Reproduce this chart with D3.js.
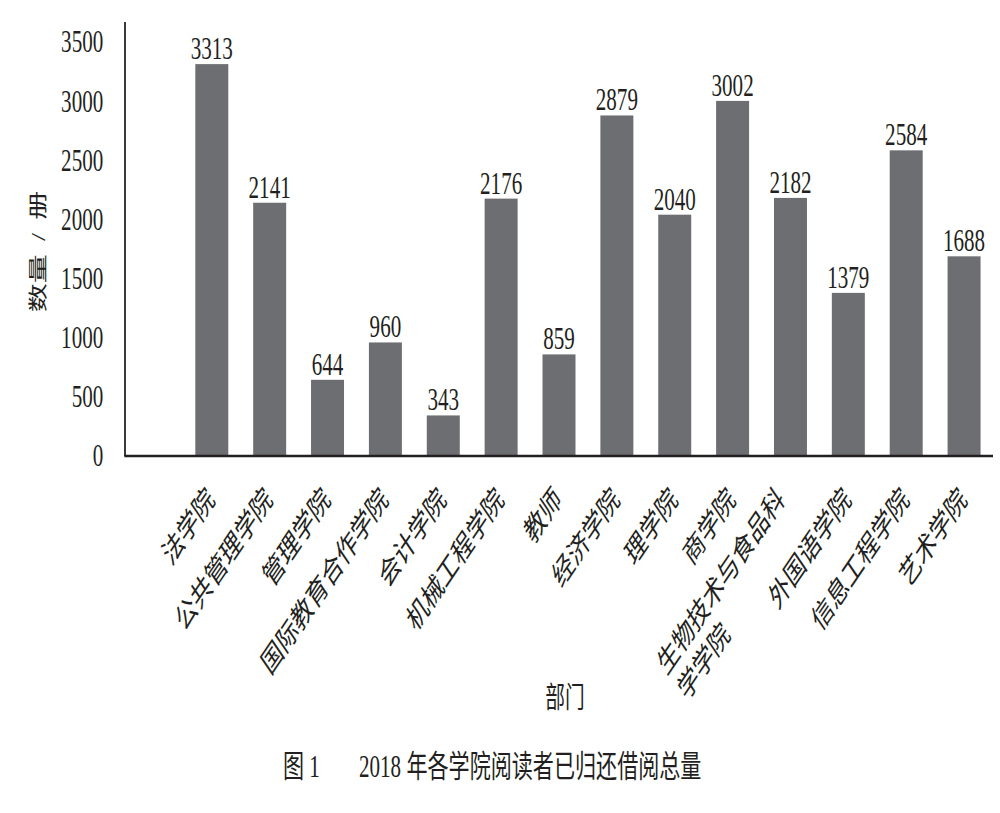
<!DOCTYPE html>
<html><head><meta charset="utf-8">
<script src="https://cdn.jsdelivr.net/npm/d3@7"></script>
<style>html,body{margin:0;padding:0;background:#fff;}</style>
</head><body>
<svg id="chart" width="1000" height="813"></svg>
<script>
const categories = ["法学院","公共管理学院","管理学院","国际教育合作学院","会计学院","机械工程学院","教师","经济学院","理学院","商学院","生物技术与食品科学学院","外国语学院","信息工程学院","艺术学院"];
const values = [3313,2141,644,960,343,2176,859,2879,2040,3002,2182,1379,2584,1688];
const yTicks = [0,500,1000,1500,2000,2500,3000,3500];
const yTitle = "数量 / 册";
const xTitle = "部门";
const captionNo = "图 1";
const captionText = "2018 年各学院阅读者已归还借阅总量";

const S = 0.68;
const FONT = "'Liberation Serif','Times New Roman','Noto Sans CJK SC',serif";
const INK = "#231f20";
const BAR = "#6d6e71";

const svg = d3.select("#chart");
svg.append("rect").attr("width",1000).attr("height",813).attr("fill","#fff");
const g = svg.append("g").attr("transform", `scale(${S},1)`);
const left = 125/S, right = 993/S, yTop = 22;
const y = d3.scaleLinear().domain([0,3500]).range([456,42]);
const step = (right-left)/(categories.length+1);
const x = d3.scaleBand().domain(categories).range([left+step, right]).paddingInner(0.43).paddingOuter(0.215);

// y axis ticks
const yAxis = g.append("g").attr("transform",`translate(${left},0)`)
  .call(d3.axisLeft(y).tickValues(yTicks).tickSize(0).tickPadding(32).tickFormat(d3.format("d")));
yAxis.select(".domain").remove();
yAxis.attr("font-family",FONT).attr("font-size",31);
yAxis.selectAll("text").attr("fill",INK);

// bars
g.selectAll("rect.bar").data(categories).join("rect").attr("class","bar")
  .attr("x", d=>x(d)).attr("width", x.bandwidth())
  .attr("y", (d,i)=>y(values[i])).attr("height",(d,i)=>y(0)-y(values[i]))
  .attr("fill",BAR);

// value labels
g.selectAll("text.val").data(categories).join("text").attr("class","val")
  .attr("x", d=>x(d)+x.bandwidth()/2).attr("y",(d,i)=>y(values[i])-5)
  .attr("text-anchor","middle").attr("font-family",FONT).attr("font-size",31).attr("fill",INK)
  .text((d,i)=>values[i]);

// axis lines
g.append("line").attr("x1",left).attr("x2",left).attr("y1",yTop).attr("y2",y(0))
  .attr("stroke",INK).attr("stroke-width",2.6);
g.append("line").attr("x1",left-1).attr("x2",right).attr("y1",y(0)).attr("y2",y(0))
  .attr("stroke",INK).attr("stroke-width",2.5);

// x labels
function wrap(s,n){ const out=[]; for(let i=0;i<s.length;i+=n) out.push(s.slice(i,i+n)); return out; }
categories.forEach(c=>{
  const lines = wrap(c,8);
  const cx = x(c)+x.bandwidth()/2;
  const shift = lines.length>1 ? -13 : 0;
  const lg = g.append("g").attr("transform",`translate(${cx+6+shift},501) rotate(-45)`);
  const t1 = lg.append("text").attr("x",0).attr("y",0).attr("text-anchor","end")
    .attr("font-family",FONT).attr("font-size",31).attr("fill",INK).text(lines[0]);
  if(lines.length>1){
    const w1 = t1.node().getComputedTextLength();
    lg.append("text").attr("x",-w1+3).attr("y",39).attr("text-anchor","start")
      .attr("font-family",FONT).attr("font-size",31).attr("fill",INK).text(lines[1]);
  }
});

// y title
g.append("text").attr("transform",`translate(${37/S},251.5) rotate(-90)`)
  .attr("dy","0.38em").attr("text-anchor","middle").attr("font-family",FONT).attr("font-size",29)
  .attr("fill",INK).attr("word-spacing",6).text(yTitle);

// x title
g.append("text").attr("x",565/S).attr("y",708).attr("text-anchor","middle")
  .attr("font-family",FONT).attr("font-size",29).attr("fill",INK).text(xTitle);

// caption
g.append("text").attr("x",283/S).attr("y",777).attr("font-family",FONT).attr("font-size",31)
  .attr("fill",INK).text(captionNo);
g.append("text").attr("x",359/S).attr("y",777).attr("font-family",FONT).attr("font-size",31)
  .attr("fill",INK).text(captionText);
</script>
</body></html>
